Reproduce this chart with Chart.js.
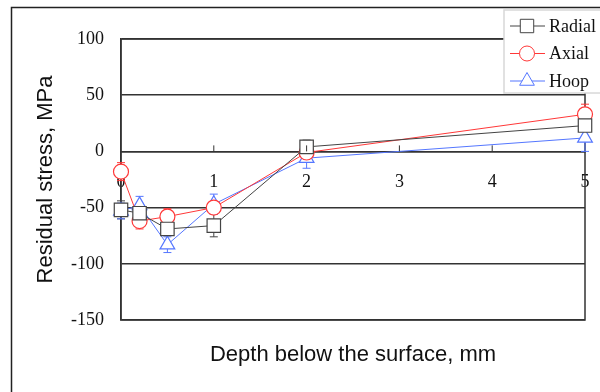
<!DOCTYPE html>
<html>
<head>
<meta charset="utf-8">
<script src="https://cdn.jsdelivr.net/npm/chart.js@4/dist/chart.umd.min.js"></script>
<style>
  body { margin: 0; background: #fff; }
  #wrap { width: 600px; height: 392px; }
</style>
</head>
<body>
<div id="wrap"><canvas id="canvas" width="600" height="392"></canvas></div>
<script>
// depth below the surface, mm
const depths = [0, 0.2, 0.5, 1, 2, 5];

// residual stress, MPa
const radial = [-52, -55, -69, -66, 4, 23];
const axial  = [-18, -62, -58, -50, -1, 33];
const hoop   = [-53, -48, -83, -47, -6, 12];

// error bar half widths, MPa
const radialErr = [8, 3, 4, 10, 6, 4];
const axialErr  = [8, 7, 7, 4, 3, 9];
const hoopErr   = [7, 8, 7, 9, 9, 12];

const seriesNames = ['Radial', 'Axial', 'Hoop'];
const yMin = -150, yMax = 100, yStep = 50;
const xMin = 0, xMax = 5, xStep = 1;

const serif = "'Liberation Serif', 'Times New Roman', serif";
const sans = "'Liberation Sans', Arial, sans-serif";

function points(vals) {
  return depths.map((d, i) => ({x: d, y: vals[i]}));
}

function makeSet(label, vals, err, color, marker, radius) {
  return {
    label: label,
    data: points(vals),
    err: err,
    borderColor: color,
    borderWidth: 1,
    pointStyle: marker,
    pointRadius: radius,
    pointHoverRadius: radius,
    pointBorderColor: color,
    pointBackgroundColor: '#fff',
    pointBorderWidth: 1.2,
    tension: 0,
    clip: false
  };
}

const datasets = [
  makeSet(seriesNames[0], radial, radialErr, '#444', 'rect', 9.5),
  makeSet(seriesNames[1], axial, axialErr, '#ff3838', 'circle', 7.5),
  makeSet(seriesNames[2], hoop, hoopErr, '#5577ff', 'triangle', 8.5)
];

// draws a legend marker (same shapes as the chart)
function drawMarker(ctx, style, x, y, r) {
  ctx.beginPath();
  if (style === 'rect') {
    const s = Math.SQRT1_2 * r;
    ctx.rect(x - s, y - s, 2 * s, 2 * s);
  } else if (style === 'circle') {
    ctx.arc(x, y, r, 0, Math.PI * 2);
  } else {
    ctx.moveTo(x, y - r);
    ctx.lineTo(x + r * 0.866, y + r * 0.5);
    ctx.lineTo(x - r * 0.866, y + r * 0.5);
    ctx.closePath();
  }
  ctx.fill();
  ctx.stroke();
}

const framePlugin = {
  id: 'frame',
  beforeDraw(chart) {
    const ctx = chart.ctx;
    ctx.save();
    ctx.fillStyle = '#fff';
    ctx.fillRect(0, 0, chart.width, chart.height);
    // outer figure border
    ctx.strokeStyle = '#222';
    ctx.lineWidth = 1.5;
    ctx.strokeRect(11.5, 7.5, 700, 500);
    ctx.restore();
  },
  afterDraw(chart) {
    const ctx = chart.ctx;
    ctx.save();

    // small tick marks pointing up from the zero line
    const xs = chart.scales.x, ys = chart.scales.y;
    const y0 = ys.getPixelForValue(0);
    ctx.strokeStyle = '#333';
    ctx.lineWidth = 1;
    for (let v = xMin + xStep; v < xMax; v += xStep) {
      const px = xs.getPixelForValue(v);
      ctx.beginPath();
      ctx.moveTo(px, y0);
      ctx.lineTo(px, y0 - 6);
      ctx.stroke();
    }

    // legend
    const lx = 504, ly = 10, lw = 110, lh = 83;
    ctx.fillStyle = '#fff';
    ctx.fillRect(lx, ly, lw, lh);
    ctx.strokeStyle = '#d8d8d8';
    ctx.lineWidth = 1.5;
    ctx.strokeRect(lx, ly, lw, lh);
    chart.data.datasets.forEach((ds, i) => {
      const cy = 26 + i * 27.5;
      ctx.strokeStyle = ds.borderColor;
      ctx.lineWidth = 1;
      ctx.beginPath();
      ctx.moveTo(510, cy);
      ctx.lineTo(545, cy);
      ctx.stroke();
      ctx.fillStyle = '#fff';
      drawMarker(ctx, ds.pointStyle, 527, cy, ds.pointRadius);
      ctx.fillStyle = '#111';
      ctx.font = '18px ' + serif;
      ctx.textAlign = 'left';
      ctx.textBaseline = 'middle';
      ctx.fillText(ds.label, 549, cy + 1);
    });
    ctx.restore();
  }
};

// plot frame drawn under the data so markers at x = 0 sit on top of it
const plotFramePlugin = {
  id: 'plotFrame',
  beforeDatasetsDraw(chart) {
    const ctx = chart.ctx;
    const a = chart.chartArea;
    ctx.save();
    ctx.strokeStyle = '#333';
    ctx.lineWidth = 1.5;
    ctx.strokeRect(a.left, a.top, a.right - a.left, a.bottom - a.top);
    ctx.restore();
  }
};

const errorBarPlugin = {
  id: 'errorBars',
  beforeDatasetsDraw(chart) {
    const ctx = chart.ctx;
    const xs = chart.scales.x, ys = chart.scales.y;
    ctx.save();
    chart.data.datasets.forEach(ds => {
      ctx.strokeStyle = ds.borderColor;
      ctx.lineWidth = 1;
      ds.data.forEach((p, i) => {
        const px = xs.getPixelForValue(p.x);
        const top = ys.getPixelForValue(p.y + ds.err[i]);
        const bot = ys.getPixelForValue(p.y - ds.err[i]);
        ctx.beginPath();
        ctx.moveTo(px, top);
        ctx.lineTo(px, bot);
        ctx.moveTo(px - 4, top);
        ctx.lineTo(px + 4, top);
        ctx.moveTo(px - 4, bot);
        ctx.lineTo(px + 4, bot);
        ctx.stroke();
      });
    });
    ctx.restore();
  }
};

const ctx = document.getElementById('canvas').getContext('2d');
const myChart = new Chart(ctx, {
  type: 'line',
  data: { datasets: datasets },
  options: {
    responsive: false,
    devicePixelRatio: 1,
    animation: false,
    events: [],
    layout: { padding: { left: 0, right: 15, top: 39, bottom: 0 } },
    plugins: {
      legend: { display: false },
      tooltip: { enabled: false }
    },
    scales: {
      x: {
        type: 'linear',
        position: { y: 0 },
        min: xMin,
        max: xMax,
        ticks: {
          stepSize: xStep,
          color: '#111',
          font: { family: serif, size: 18 },
          padding: 20
        },
        grid: { display: false, drawTicks: false },
        border: { display: true, color: '#333', width: 1.5 },
        afterFit(scale) {
          scale.paddingLeft = 0;
          scale.paddingRight = 0;
          scale.height = 0;
        }
      },
      x2: {
        type: 'linear',
        position: 'bottom',
        min: xMin,
        max: xMax,
        ticks: { display: false },
        grid: { display: false, drawTicks: false },
        border: { display: false },
        title: {
          display: true,
          text: 'Depth below the surface, mm',
          color: '#111',
          font: { family: sans, size: 22 },
          padding: { top: 0, bottom: 24 }
        },
        afterFit(scale) { scale.height = 72; }
      },
      y: {
        type: 'linear',
        min: yMin,
        max: yMax,
        ticks: {
          stepSize: yStep,
          color: '#111',
          font: { family: serif, size: 18 },
          padding: 17
        },
        grid: { color: '#333', lineWidth: 1.5, drawTicks: false },
        border: { display: true, color: '#333', width: 1.5 },
        title: {
          display: true,
          text: 'Residual stress, MPa',
          color: '#111',
          font: { family: sans, size: 22 },
          padding: { top: 33, bottom: 0 }
        },
        afterFit(scale) { scale.width = 121; }
      }
    }
  },
  plugins: [framePlugin, plotFramePlugin, errorBarPlugin]
});
</script>
</body>
</html>
